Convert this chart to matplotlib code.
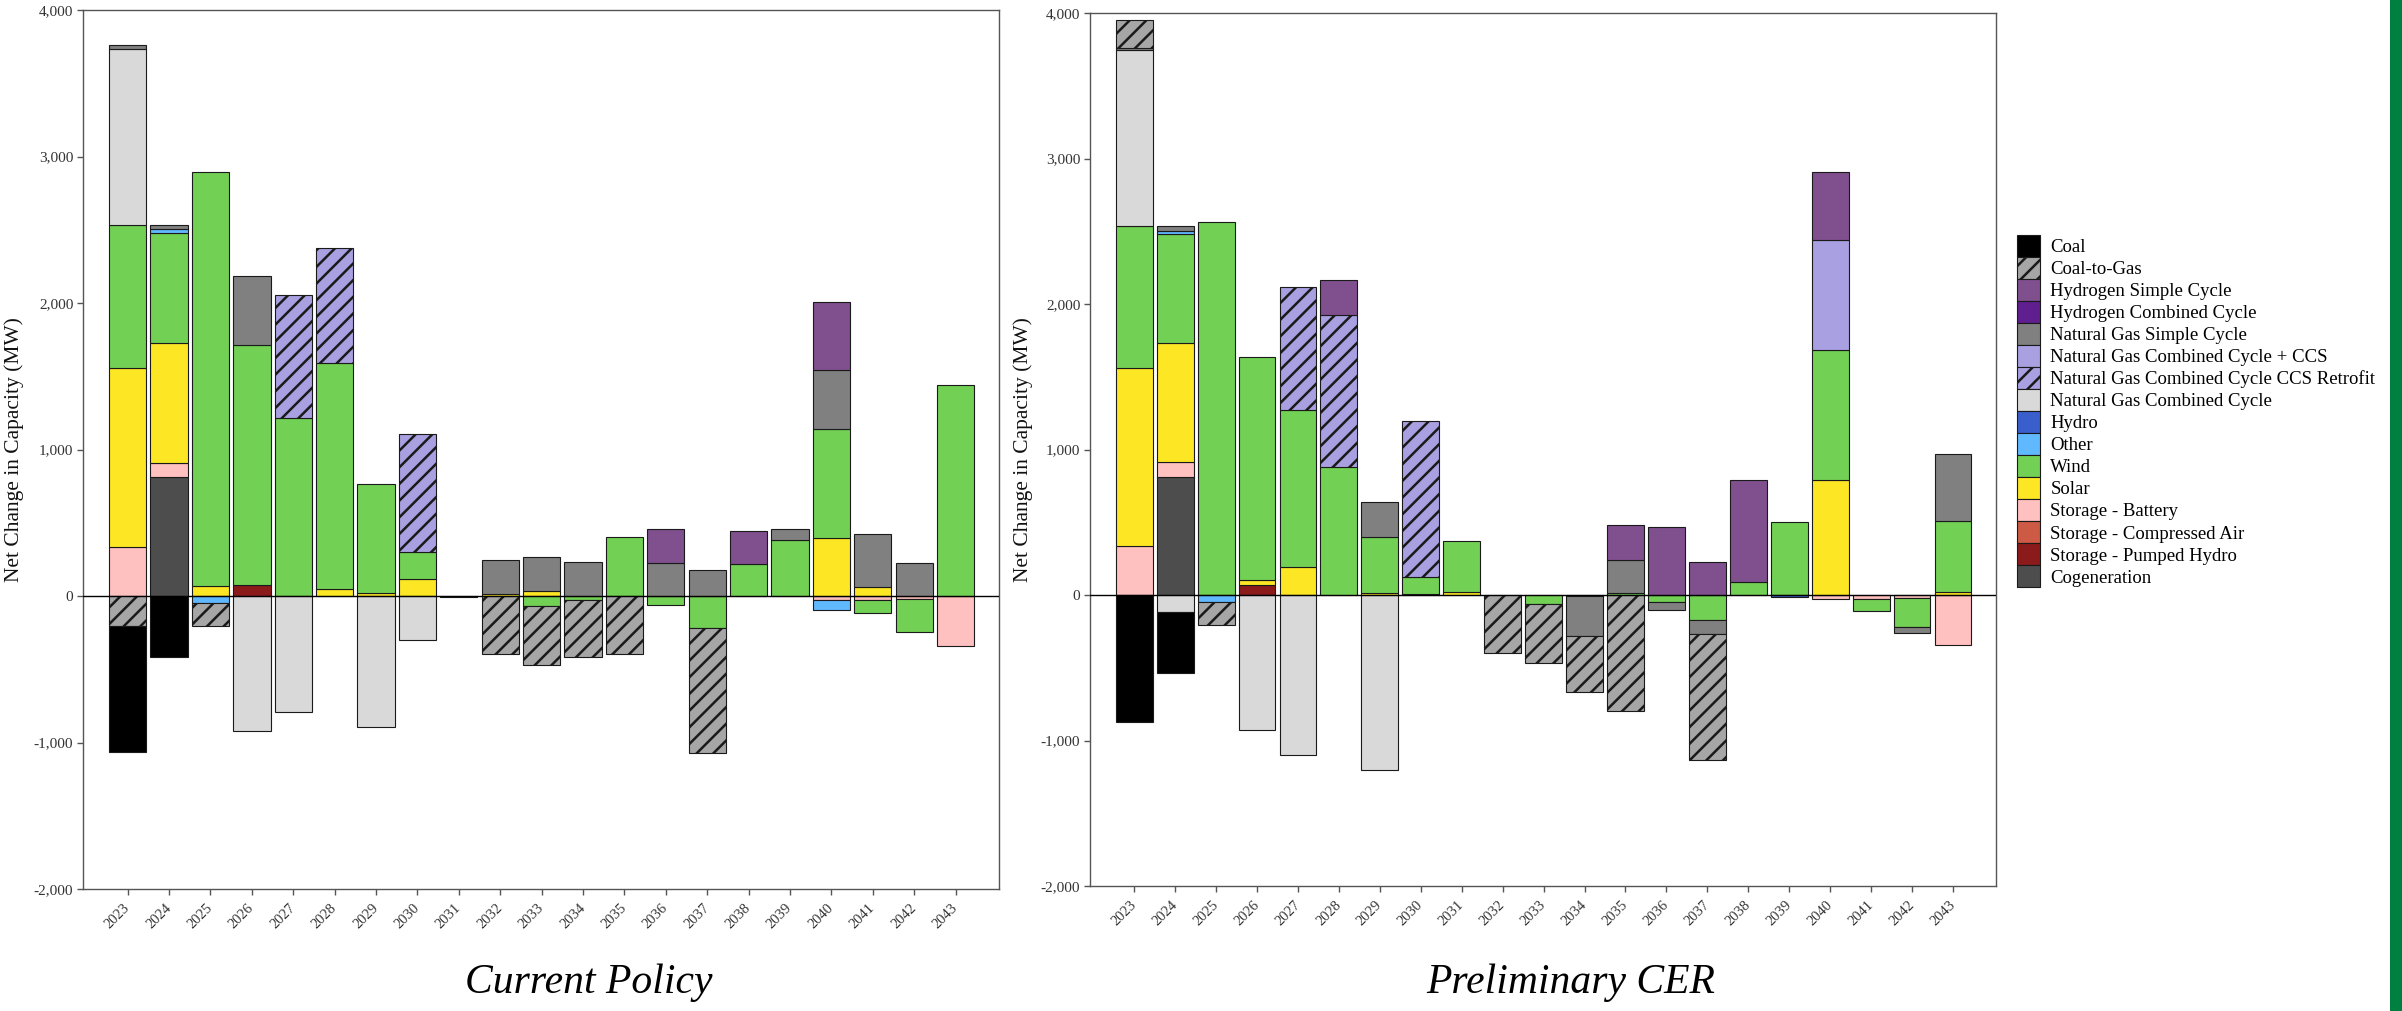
import numpy as np
import matplotlib.pyplot as plt
from matplotlib.patches import Patch, Rectangle

plt.rcParams['font.family'] = ['Liberation Serif', 'DejaVu Serif']
plt.rcParams['hatch.linewidth'] = 1.8

years = list(range(2023, 2044))

# technologies in legend order (top to bottom); bars stack in reverse order
techs = ['Coal', 'Coal-to-Gas', 'Hydrogen Simple Cycle', 'Hydrogen Combined Cycle',
         'Natural Gas Simple Cycle', 'Natural Gas Combined Cycle + CCS',
         'Natural Gas Combined Cycle CCS Retrofit', 'Natural Gas Combined Cycle',
         'Hydro', 'Other', 'Wind', 'Solar', 'Storage - Battery',
         'Storage - Compressed Air', 'Storage - Pumped Hydro', 'Cogeneration']
tech_colors = ['#000000', '#a6a6a6', '#7f4f8e', '#5f1f8f',
               '#808080', '#a8a0e0', '#a8a0e0', '#d9d9d9',
               '#3a5fcd', '#60b8ff', '#72d054', '#fde725', '#ffc0c0',
               '#cc5a44', '#8b1a1a', '#4d4d4d']
tech_hatches = ['', '//', '', '', '', '', '//', '',
                '', '', '', '', '', '', '', '']

# Current Policy - net change in capacity (MW), 2023..2043
cp_coal = [-861, -415, 0, 0, 0, 0, 0, 0, -8, 0, 0, 0, 0, 0, 0, 0, 0, 0, 0, 0, 0]
cp_coal_to_gas = [-204, 0, -156, 0, 0, 0, 0, 0, 0, -397, -399, -390, -397, 0, -852, 0, 0, 0, 0, 0, 0]
cp_h2_simple = [0, 0, 0, 0, 0, 0, 0, 0, 0, 0, 0, 0, 0, 233, 0, 227, 0, 465, 0, 0, 0]
cp_ng_simple = [25, 30, 0, 469, 0, 0, 0, 0, 0, 229, 229, 233, 0, 227, 179, 0, 79, 404, 363, 224, 0]
cp_ccs_retrofit = [0, 0, 0, 0, 843, 783, 0, 809, 0, 0, 0, 0, 0, 0, 0, 0, 0, 0, 0, 0, 0]
cp_ngcc = [1202, 0, 0, -920, -793, 0, -891, -302, 0, 0, 0, 0, 0, 0, 0, 0, 0, 0, 0, 0, 0]
cp_other = [0, 25, -50, 0, 0, 0, 0, 0, 0, 0, 0, 0, 0, 0, 0, 0, 0, -66, 0, 0, 0]
cp_wind = [977, 751, 2831, 1639, 1215, 1546, 748, 181, 0, 0, -70, -25, 406, -63, -220, 220, 381, 741, -87, -222, 1440]
cp_solar = [1224, 820, 66, 0, 0, 45, 18, 118, 0, 16, 36, 0, 0, 0, 0, 0, 0, 399, 63, 0, 0]
cp_battery = [333, 95, 0, 0, 0, 0, 0, 0, 0, 0, 0, 0, 0, 0, 0, 0, 0, -29, -29, -23, -340]
cp_pumped_hydro = [0, 0, 0, 75, 0, 0, 0, 0, 0, 0, 0, 0, 0, 0, 0, 0, 0, 0, 0, 0, 0]
cp_cogen = [0, 812, 0, 0, 0, 0, 0, 0, 0, 0, 0, 0, 0, 0, 0, 0, 0, 0, 0, 0, 0]

# Preliminary CER - net change in capacity (MW), 2023..2043
cer_coal = [-870, -422, 0, 0, 0, 0, 0, 0, 0, 0, 0, 0, 0, 0, 0, 0, 0, 0, 0, 0, 0]
cer_coal_to_gas = [192, 0, -158, 0, 0, 0, 0, 0, 0, -401, -401, -390, -800, 0, -865, 0, 0, 0, 0, 0, 0]
cer_h2_simple = [0, 0, 0, 0, 0, 236, 0, 0, 0, 0, 0, 0, 242, 469, 227, 699, 0, 466, 0, 0, 0]
cer_ng_simple = [14, 37, 0, 0, 0, 0, 239, 0, 0, 0, 0, -269, 229, -51, -97, 0, 0, 0, 0, -35, 462]
cer_ngcc_ccs = [0, 0, 0, 0, 0, 0, 0, 0, 0, 0, 0, 0, 0, 0, 0, 0, 0, 759, 0, 0, 0]
cer_ccs_retrofit = [0, 0, 0, 0, 846, 1046, 0, 1072, 0, 0, 0, 0, 0, 0, 0, 0, 0, 0, 0, 0, 0]
cer_ngcc = [1207, -116, 0, -930, -1102, 0, -1204, 0, 0, 0, 0, 0, 0, 0, 0, 0, 0, 0, 0, 0, 0]
cer_hydro = [0, 0, 0, 0, 0, 0, 0, 0, 0, 0, 0, 0, 0, 0, 0, 0, -16, 0, 0, 0, 0]
cer_other = [0, 18, -51, 0, 0, 0, 0, 0, 0, 0, 0, 0, 0, 0, 0, 0, 0, 0, 0, 0, 0]
cer_wind = [977, 750, 2567, 1532, 1076, 881, 383, 116, 351, 0, -65, -10, 12, -51, -172, 90, 503, 893, -79, -200, 485]
cer_solar = [1221, 821, 0, 34, 195, 0, 16, 9, 23, 0, 0, 0, 0, 0, 0, 0, 0, 791, 0, 0, 23]
cer_battery = [339, 97, 0, 0, 0, 0, 0, 0, 0, 0, 0, 0, 0, 0, 0, 0, 0, -30, -28, -23, -346]
cer_pumped_hydro = [0, 0, 0, 70, 0, 0, 0, 0, 0, 0, 0, 0, 0, 0, 0, 0, 0, 0, 0, 0, 0]
cer_cogen = [0, 814, 0, 0, 0, 0, 0, 0, 0, 0, 0, 0, 0, 0, 0, 0, 0, 0, 0, 0, 0]

current_policy = {
    'Coal': cp_coal, 'Coal-to-Gas': cp_coal_to_gas,
    'Hydrogen Simple Cycle': cp_h2_simple, 'Natural Gas Simple Cycle': cp_ng_simple,
    'Natural Gas Combined Cycle CCS Retrofit': cp_ccs_retrofit,
    'Natural Gas Combined Cycle': cp_ngcc, 'Other': cp_other, 'Wind': cp_wind,
    'Solar': cp_solar, 'Storage - Battery': cp_battery,
    'Storage - Pumped Hydro': cp_pumped_hydro, 'Cogeneration': cp_cogen,
}
prelim_cer = {
    'Coal': cer_coal, 'Coal-to-Gas': cer_coal_to_gas,
    'Hydrogen Simple Cycle': cer_h2_simple, 'Natural Gas Simple Cycle': cer_ng_simple,
    'Natural Gas Combined Cycle + CCS': cer_ngcc_ccs,
    'Natural Gas Combined Cycle CCS Retrofit': cer_ccs_retrofit,
    'Natural Gas Combined Cycle': cer_ngcc, 'Hydro': cer_hydro, 'Other': cer_other,
    'Wind': cer_wind, 'Solar': cer_solar, 'Storage - Battery': cer_battery,
    'Storage - Pumped Hydro': cer_pumped_hydro, 'Cogeneration': cer_cogen,
}

yticks = [-2000, -1000, 0, 1000, 2000, 3000, 4000]
edge = '#1a1a1a'


def draw_panel(ax, data):
    x = np.arange(len(years))
    pos = np.zeros(len(years))
    neg = np.zeros(len(years))
    # stack additions upward and retirements downward, same series order
    for name, col, hat in list(zip(techs, tech_colors, tech_hatches))[::-1]:
        vals = np.array(data.get(name, [0] * len(years)), dtype=float)
        style = dict(width=0.9, color=col, hatch=hat, edgecolor=edge, linewidth=0.8, zorder=2)
        up = vals > 0
        dn = vals < 0
        if up.any():
            ax.bar(x[up], vals[up], bottom=pos[up], **style)
        if dn.any():
            ax.bar(x[dn], vals[dn], bottom=neg[dn], **style)
        pos[up] += vals[up]
        neg[dn] += vals[dn]

    ax.axhline(0, color='black', linewidth=1.0, zorder=3)
    ax.set_xlim(-1.08, len(years) - 1 + 1.05)
    ax.set_ylim(-2000, 4000)
    ax.set_yticks(yticks)
    ax.set_yticklabels([f'{v:,}' for v in yticks], fontsize=11, color='#333333')
    ax.set_xticks(x)
    ax.set_xticklabels([str(y) for y in years], rotation=45, ha='right', va='center',
                       rotation_mode='anchor', fontsize=10.5, color='#333333')
    ax.tick_params(axis='both', length=4, width=1, color='#555555', pad=3)
    ax.tick_params(axis='x', pad=8)
    for sp in ax.spines.values():
        sp.set_color('#555555')
        sp.set_linewidth(1.0)
    ax.set_ylabel('Net Change in Capacity (MW)', fontsize=15.5, color='#111111')


fig = plt.figure(figsize=(24.02, 10.11), dpi=100)
W, H = 2402, 1011

ax1 = fig.add_axes([83 / W, 1 - 889 / H, 916 / W, 879 / H])
ax2 = fig.add_axes([1090 / W, 1 - 886 / H, 906 / W, 873 / H])
draw_panel(ax1, current_policy)
draw_panel(ax2, prelim_cer)
ax1.yaxis.set_label_coords(-0.064, 0.5)
ax2.yaxis.set_label_coords(-0.063, 0.5)

# scenario names under each panel
title_font = dict(family='Liberation Serif', style='italic', size=30, color='black')
fig.text(589 / W, 1 - 993 / H, 'Current Policy', ha='center', va='baseline', **title_font)
fig.text(1571 / W, 1 - 993 / H, 'Preliminary CER', ha='center', va='baseline', **title_font)

# shared legend
handles = [Patch(facecolor=c, edgecolor=edge, hatch=h, linewidth=0.8)
           for c, h in zip(tech_colors, tech_hatches)]
fig.legend(handles, techs, loc='upper left', bbox_to_anchor=(2017 / W, 1 - 235 / H),
           frameon=False, borderpad=0, borderaxespad=0, labelspacing=0,
           handlelength=1.23, handleheight=1.43, handletextpad=0.55,
           prop=dict(family='Liberation Serif', size=13.5))

# green edge stripe
fig.add_artist(Rectangle((2390 / W, 0), 12 / W, 1, transform=fig.transFigure,
                         facecolor='#008040', edgecolor='none'))

fig.savefig('out.png', dpi=100, facecolor='white')
